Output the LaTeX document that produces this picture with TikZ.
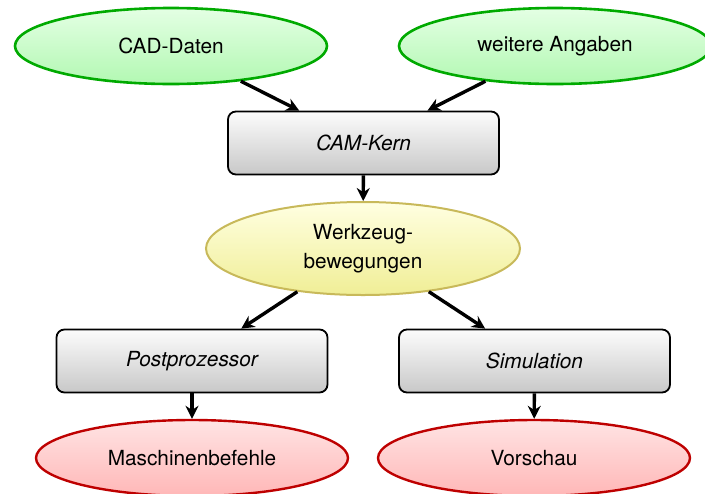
\documentclass[tikz,border=0pt]{standalone}
\usepackage{fontspec}
\setmainfont{TeX Gyre Heros}
\usetikzlibrary{shapes.geometric,arrows.meta}
\definecolor{gborder}{RGB}{0,170,0}
\definecolor{gtop}{RGB}{228,255,228}
\definecolor{gbot}{RGB}{178,248,178}
\definecolor{yborder}{RGB}{200,185,90}
\definecolor{ytop}{RGB}{255,255,225}
\definecolor{ybot}{RGB}{240,238,150}
\definecolor{rborder}{RGB}{190,0,0}
\definecolor{rtop}{RGB}{255,228,228}
\definecolor{rbot}{RGB}{255,183,183}
\definecolor{btop}{RGB}{252,252,252}
\definecolor{bbot}{RGB}{200,200,200}
\tikzset{
  every node/.style={font=\fontsize{10.4}{14.5}\selectfont, inner sep=0pt, align=center},
  inell/.style={ellipse, draw=gborder, line width=1.3pt, top color=gtop, bottom color=gbot, minimum width=156pt, minimum height=38pt},
  midell/.style={ellipse, draw=yborder, line width=1pt, top color=ytop, bottom color=ybot, minimum width=157pt, minimum height=46.5pt},
  outell/.style={ellipse, draw=rborder, line width=1.2pt, top color=rtop, bottom color=rbot, minimum width=156pt, minimum height=38pt},
  procbox/.style={rectangle, rounded corners=4pt, draw=black, line width=0.9pt, top color=btop, bottom color=bbot, minimum width=135.5pt, minimum height=31.5pt, font=\fontsize{10.4}{14.5}\selectfont\itshape},
  flow/.style={line width=1.7pt, -{Stealth[length=6.5pt, width=6.5pt]}}
}
\begin{document}
\begin{tikzpicture}[x=0.5pt, y=-0.5pt]
\useasboundingbox (0,0) rectangle (705,493);
\begin{scope}
\clip (0,0) rectangle (705,493);
\node[inell] (cad) at (171,46) {CAD-Daten};
\node[inell] (wa) at (555,46) {weitere Angaben};
\node[procbox] (cam) at (363.5,143) {CAM-Kern};
\node[midell] (wz) at (363,248.5) {Werkzeug-\\bewegungen};
\node[procbox] (post) at (192,361) {Postprozessor};
\node[procbox] (sim) at (534.5,361) {Simulation};
\node[outell] (mb) at (192,458) {Maschinenbefehle};
\node[outell] (vs) at (534,458) {Vorschau};
\draw[flow] (cad) -- (cam);
\draw[flow] (wa) -- (cam);
\draw[flow] (cam) -- (wz);
\draw[flow] (wz) -- (post);
\draw[flow] (wz) -- (sim);
\draw[flow] (post) -- (mb);
\draw[flow] (sim) -- (vs);
\end{scope}
\end{tikzpicture}
\end{document}
